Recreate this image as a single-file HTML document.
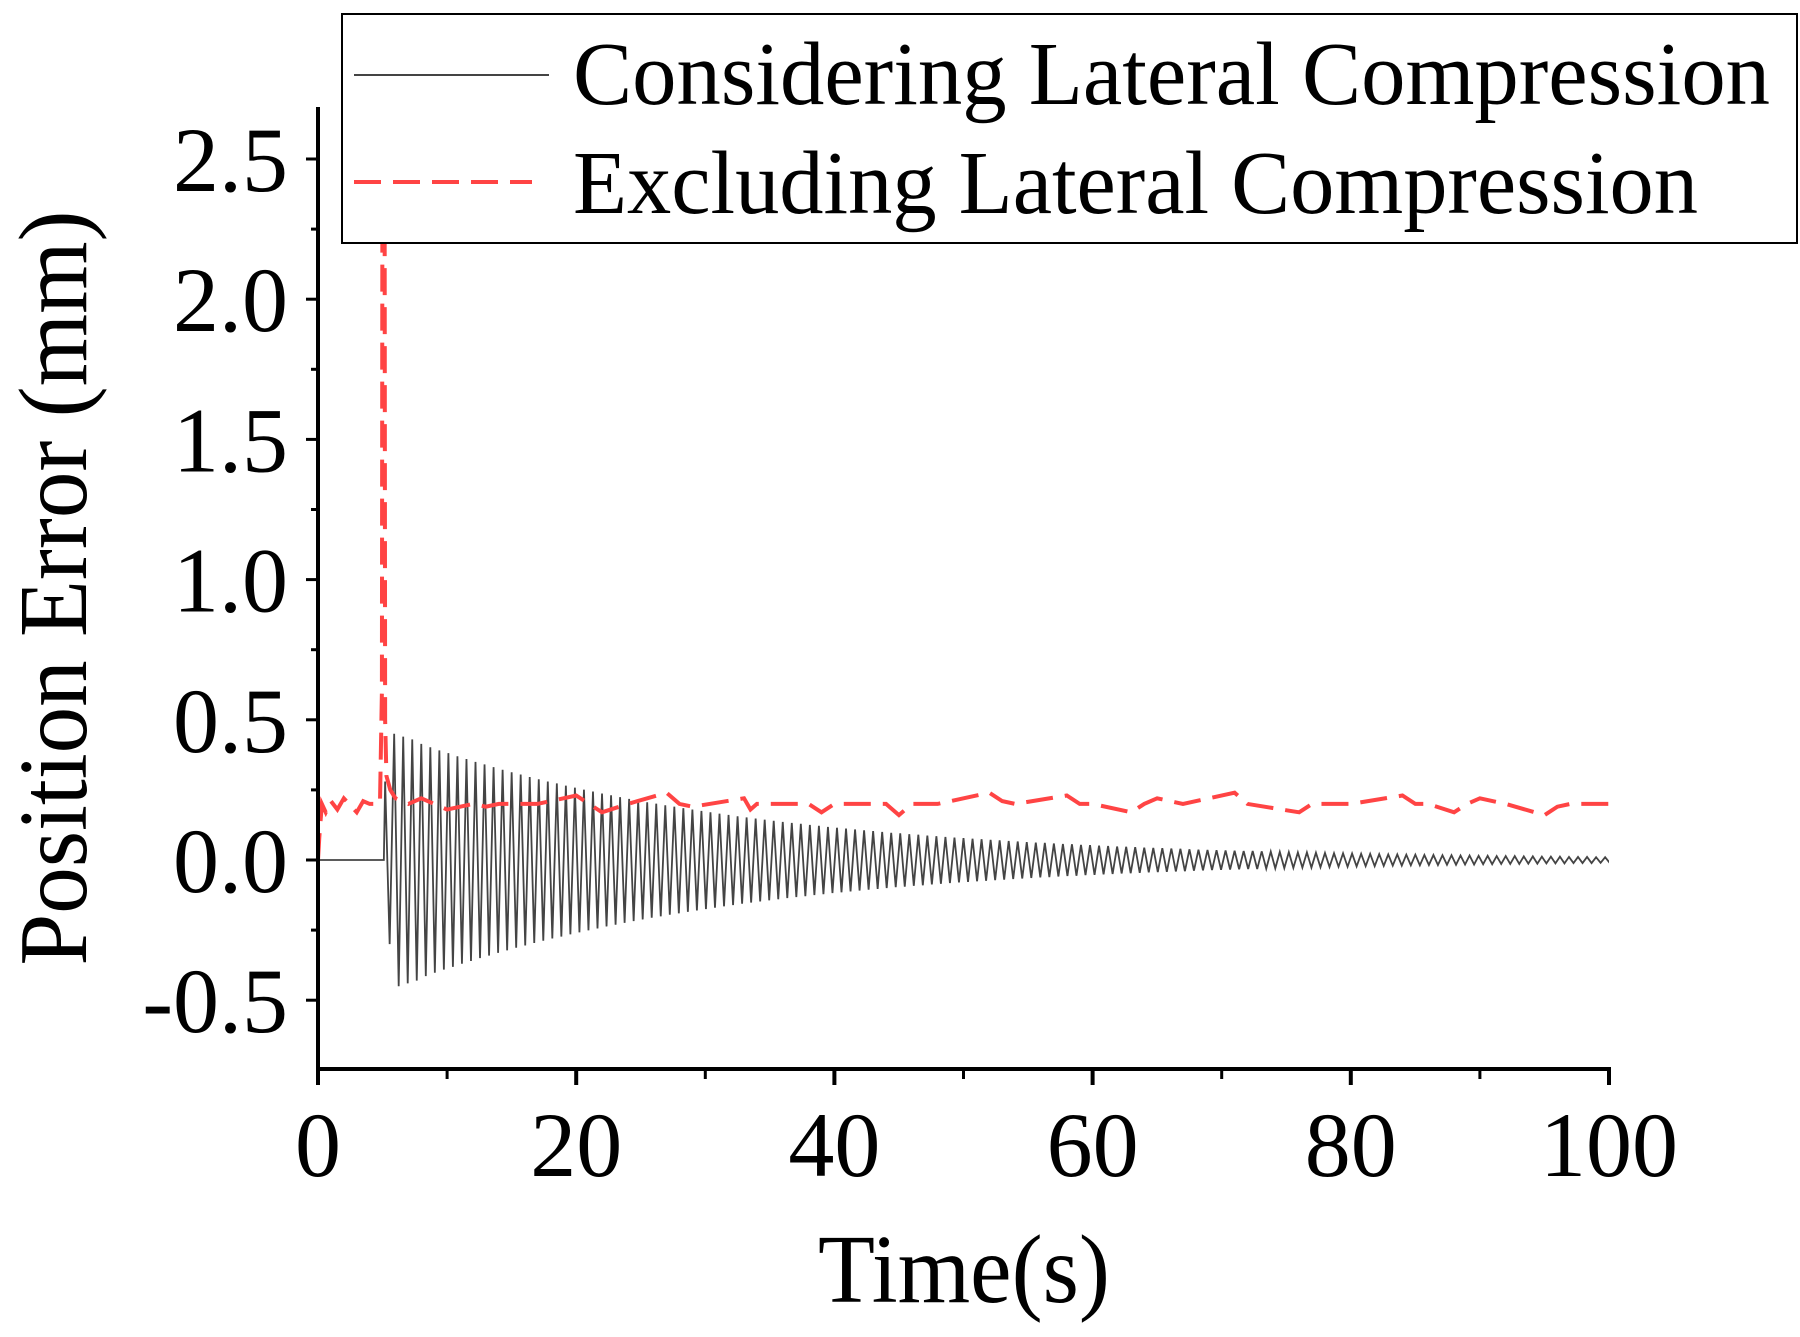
<!DOCTYPE html>
<html><head><meta charset="utf-8"><style>html,body{margin:0;padding:0;background:#fff}svg{display:block}text{font-family:"Liberation Serif",serif;fill:#000}</style></head>
<body>
<svg id="chart" width="1800" height="1337" viewBox="0 0 1800 1337" xmlns="http://www.w3.org/2000/svg">
<defs><clipPath id="plotclip"><rect x="318" y="107" width="1291" height="962"/></clipPath></defs>
<g id="series" clip-path="url(#plotclip)"></g>
<g id="axes"></g>
<g>
<rect x="342" y="14" width="1455" height="229" fill="#fff" stroke="#000" stroke-width="2"/>
<line x1="354" y1="75" x2="549" y2="75" stroke="#444" stroke-width="2"/>
<text x="573" y="104" font-size="90" textLength="1197" lengthAdjust="spacingAndGlyphs">Considering Lateral Compression</text>
<line x1="354" y1="182" x2="532" y2="182" stroke="#f44" stroke-width="4" stroke-dasharray="27,12"/>
<text x="573" y="213" font-size="90" textLength="1125" lengthAdjust="spacingAndGlyphs">Excluding Lateral Compression</text>
</g>
<text x="964" y="1302" font-size="98" text-anchor="middle" textLength="292" lengthAdjust="spacingAndGlyphs">Time(s)</text>
<text transform="translate(86,588) rotate(-90)" font-size="98" text-anchor="middle" textLength="755" lengthAdjust="spacingAndGlyphs">Position Error (mm)</text>
</svg>
<script>
const xTicks = [0, 20, 40, 60, 80, 100];
const xTickLabels = ["0", "20", "40", "60", "80", "100"];
const yTicks = [-0.5, 0, 0.5, 1.0, 1.5, 2.0, 2.5];
const yTickLabels = ["-0.5", "0.0", "0.5", "1.0", "1.5", "2.0", "2.5"];
const blackFlatT = [0, 1, 2, 3, 4, 5.1];
const blackFlatY = [0, 0, 0, 0, 0, 0];
const blackStart = 5.2;
const blackPeriod = 0.7;
const blackAmp = [0.28,0.45,0.44,0.43,0.414,0.402,0.391,0.381,0.370,0.360,0.350,0.341,0.331,0.322,0.313,0.305,0.296,0.288,0.280,0.273,0.265,0.258,0.251,0.244,0.237,0.231,0.224,0.218,0.212,0.206,0.201,0.195,0.190,0.185,0.180,0.175,0.170,0.165,0.161,0.156,0.152,0.148,0.144,0.140,0.136,0.132,0.129,0.125,0.122,0.118,0.115,0.112,0.109,0.106,0.103,0.100,0.097,0.095,0.092,0.090,0.087,0.085,0.082,0.080,0.078,0.076,0.074,0.072,0.070,0.068,0.066,0.064,0.062,0.061,0.059,0.057,0.056,0.054,0.053,0.051,0.050,0.048,0.047,0.046,0.044,0.043,0.042,0.041,0.040,0.038,0.037,0.036,0.035,0.034,0.033,0.032,0.032,0.031,0.030,0.029,0.028,0.027,0.027,0.026,0.025,0.024,0.024,0.023,0.022,0.022,0.021,0.020,0.020,0.019,0.019,0.018,0.018,0.017,0.017,0.016,0.016,0.015,0.015,0.014,0.014,0.014,0.013,0.013,0.012,0.012,0.012,0.011,0.011,0.011,0.010,0.010];
const redT = [0,0.1,0.3,0.6,1.0,1.5,2.0,2.4,3.0,3.5,4.0,4.8,4.95,5.0,5.15,5.2,5.3,5.6,6,7,8,9,10,12,13,14,17,20,21,22,24,27,28,29,33,33.5,34,36,38,39,40,41,44,45,46,48,52,53,54,58,59,60,63,64,65,67,71,72,76,77,78,80,84,85,86,88,89,90,92,95,96,97,100];
const redY = [0,0.08,0.2,0.17,0.21,0.18,0.22,0.2,0.17,0.21,0.2,0.2,0.6,2.9,2.9,0.5,0.3,0.25,0.22,0.2,0.22,0.2,0.18,0.2,0.19,0.2,0.2,0.23,0.2,0.17,0.2,0.24,0.2,0.19,0.22,0.18,0.2,0.2,0.2,0.17,0.2,0.2,0.2,0.16,0.2,0.2,0.24,0.21,0.2,0.23,0.2,0.2,0.17,0.2,0.22,0.2,0.24,0.2,0.17,0.2,0.2,0.2,0.23,0.2,0.2,0.17,0.2,0.22,0.2,0.16,0.19,0.2,0.2];

const X0=318, X1=1609, Y0=860, YPER=280.4, XB=1069;
function sx(t){return X0+(t-0)/(100-0)*(X1-X0);}
function sy(v){return Y0-v*YPER;}
const NS="http://www.w3.org/2000/svg";
function mk(tag, attrs, parent){const e=document.createElementNS(NS,tag);for(const k in attrs)e.setAttribute(k,attrs[k]);parent.appendChild(e);return e;}
const series=document.getElementById('series'), axes=document.getElementById('axes');

let d='';
for(let i=0;i<blackFlatT.length;i++) d+=(i?'L':'M')+sx(blackFlatT[i]).toFixed(2)+' '+sy(blackFlatY[i]).toFixed(2);
for(let i=0;i<blackAmp.length;i++){
  const t=blackStart+i*blackPeriod;
  const lo=(i===0?0.30:blackAmp[i]);
  d+='L'+sx(t).toFixed(2)+' '+sy(blackAmp[i]).toFixed(2);
  d+='L'+sx(t+blackPeriod/2).toFixed(2)+' '+sy(-lo).toFixed(2);
}
const bl=mk('path',{d:d,fill:'none',stroke:'#444','stroke-width':1.8},series);



let d2='';
for(let i=0;i<redT.length;i++) d2+=(i?'L':'M')+sx(redT[i]).toFixed(2)+' '+sy(redY[i]).toFixed(2);
const rl=mk('path',{d:d2,fill:'none',stroke:'#f44','stroke-width':4,'stroke-dasharray':'27,12'},series);



const ya=mk('line',{x1:X0,y1:107,x2:X0,y2:XB+2,stroke:'#000','stroke-width':4},axes);


const xa=mk('line',{x1:X0-2,y1:XB,x2:X1+2,y2:XB,stroke:'#000','stroke-width':4},axes);



for(let i=0;i<xTicks.length;i++){
  const x=sx(xTicks[i]);
  const tk=mk('line',{x1:x,y1:XB,x2:x,y2:XB+16,stroke:'#000','stroke-width':4},axes);
  
  
  const tl=mk('text',{x:x,y:1176,'font-size':92,'text-anchor':'middle'},axes);
  tl.textContent=xTickLabels[i];
  
  
  if(i<xTicks.length-1){
    const xm=sx((xTicks[i]+xTicks[i+1])/2);
    const mt=mk('line',{x1:xm,y1:XB,x2:xm,y2:XB+10,stroke:'#000','stroke-width':3},axes);
    
    
  }
}
for(let i=0;i<yTicks.length;i++){
  const y=sy(yTicks[i]);
  const tk=mk('line',{x1:X0-12,y1:y,x2:X0,y2:y,stroke:'#000','stroke-width':3},axes);
  
  
  const tl=mk('text',{x:288,y:y+32,'font-size':92,'text-anchor':'end'},axes);
  tl.textContent=yTickLabels[i];
  
  
  for(const off of [-0.25,0.25]){
    const v=yTicks[i]+off;
    if(v<-0.74||v>2.68) continue;
    if(off<0 && i>0) continue;
    const ym=sy(v);
    const mt=mk('line',{x1:X0-7,y1:ym,x2:X0,y2:ym,stroke:'#000','stroke-width':3},axes);
    
    
  }
}
</script>
</body></html>
